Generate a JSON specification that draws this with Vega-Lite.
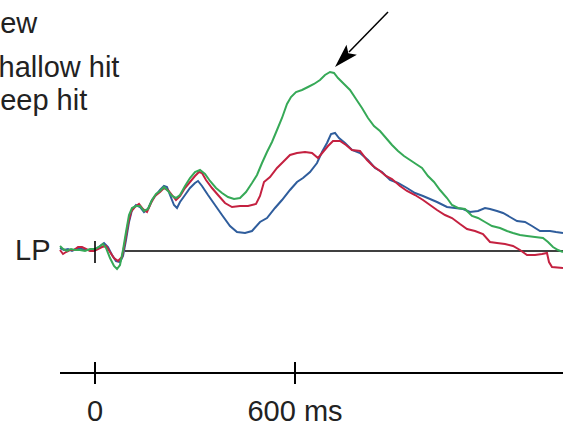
{
  "$schema": "https://vega.github.io/schema/vega-lite/v6.json",
  "width": 563,
  "height": 430,
  "padding": 0,
  "autosize": {"type": "none"},
  "background": "white",
  "config": {"view": {"stroke": null}, "font": "Liberation Sans"},
  "datasets": {
    "erp": [
      {"cond": "new", "t": -105, "amp": 0.3}, {"cond": "new", "t": -93, "amp": 0.1}, {"cond": "new", "t": -81, "amp": 0.2}, {"cond": "new", "t": -69, "amp": 0}, {"cond": "new", "t": -57, "amp": 0.2}, {"cond": "new", "t": -45, "amp": 0.3}, {"cond": "new", "t": -33, "amp": 0.1}, {"cond": "new", "t": -21, "amp": 0.1}, {"cond": "new", "t": -9, "amp": 0.1}, {"cond": "new", "t": 3, "amp": 0.2}, {"cond": "new", "t": 15, "amp": 0.5}, {"cond": "new", "t": 27, "amp": 0.8}, {"cond": "new", "t": 39, "amp": 0.4}, {"cond": "new", "t": 51, "amp": -0.4}, {"cond": "new", "t": 63, "amp": -1.0}, {"cond": "new", "t": 75, "amp": -1.1}, {"cond": "new", "t": 84, "amp": -0.5}, {"cond": "new", "t": 93, "amp": 1.1}, {"cond": "new", "t": 102, "amp": 2.9}, {"cond": "new", "t": 111, "amp": 4.1}, {"cond": "new", "t": 123, "amp": 4.6}, {"cond": "new", "t": 135, "amp": 4.4}, {"cond": "new", "t": 147, "amp": 3.9}, {"cond": "new", "t": 159, "amp": 4.2}, {"cond": "new", "t": 171, "amp": 5.1}, {"cond": "new", "t": 183, "amp": 5.6}, {"cond": "new", "t": 195, "amp": 6.1}, {"cond": "new", "t": 207, "amp": 6.5}, {"cond": "new", "t": 216, "amp": 6.4}, {"cond": "new", "t": 225, "amp": 5.6}, {"cond": "new", "t": 237, "amp": 4.6}, {"cond": "new", "t": 246, "amp": 4.3}, {"cond": "new", "t": 255, "amp": 4.9}, {"cond": "new", "t": 270, "amp": 5.6}, {"cond": "new", "t": 285, "amp": 6.3}, {"cond": "new", "t": 300, "amp": 6.8}, {"cond": "new", "t": 309, "amp": 7.0}, {"cond": "new", "t": 321, "amp": 6.5}, {"cond": "new", "t": 339, "amp": 5.6}, {"cond": "new", "t": 360, "amp": 4.6}, {"cond": "new", "t": 381, "amp": 3.6}, {"cond": "new", "t": 405, "amp": 2.5}, {"cond": "new", "t": 426, "amp": 1.9}, {"cond": "new", "t": 450, "amp": 1.8}, {"cond": "new", "t": 471, "amp": 2.0}, {"cond": "new", "t": 495, "amp": 2.9}, {"cond": "new", "t": 516, "amp": 3.3}, {"cond": "new", "t": 540, "amp": 4.3}, {"cond": "new", "t": 561, "amp": 5.1}, {"cond": "new", "t": 585, "amp": 6.1}, {"cond": "new", "t": 606, "amp": 6.9}, {"cond": "new", "t": 624, "amp": 7.3}, {"cond": "new", "t": 645, "amp": 7.9}, {"cond": "new", "t": 666, "amp": 8.8}, {"cond": "new", "t": 681, "amp": 9.9}, {"cond": "new", "t": 696, "amp": 10.8}, {"cond": "new", "t": 708, "amp": 11.7}, {"cond": "new", "t": 720, "amp": 11.8}, {"cond": "new", "t": 732, "amp": 11.3}, {"cond": "new", "t": 750, "amp": 10.8}, {"cond": "new", "t": 771, "amp": 10.1}, {"cond": "new", "t": 795, "amp": 9.8}, {"cond": "new", "t": 819, "amp": 9.1}, {"cond": "new", "t": 840, "amp": 8.3}, {"cond": "new", "t": 861, "amp": 7.9}, {"cond": "new", "t": 885, "amp": 7.1}, {"cond": "new", "t": 909, "amp": 6.8}, {"cond": "new", "t": 936, "amp": 6.3}, {"cond": "new", "t": 960, "amp": 5.8}, {"cond": "new", "t": 984, "amp": 5.5}, {"cond": "new", "t": 1005, "amp": 5.2}, {"cond": "new", "t": 1026, "amp": 4.9}, {"cond": "new", "t": 1056, "amp": 4.4}, {"cond": "new", "t": 1080, "amp": 4.3}, {"cond": "new", "t": 1104, "amp": 4.2}, {"cond": "new", "t": 1125, "amp": 3.9}, {"cond": "new", "t": 1149, "amp": 4.0}, {"cond": "new", "t": 1170, "amp": 4.3}, {"cond": "new", "t": 1185, "amp": 4.2}, {"cond": "new", "t": 1206, "amp": 4.0}, {"cond": "new", "t": 1224, "amp": 3.8}, {"cond": "new", "t": 1245, "amp": 3.4}, {"cond": "new", "t": 1266, "amp": 3.0}, {"cond": "new", "t": 1290, "amp": 2.9}, {"cond": "new", "t": 1311, "amp": 2.5}, {"cond": "new", "t": 1335, "amp": 2.0}, {"cond": "new", "t": 1365, "amp": 2.0}, {"cond": "new", "t": 1383, "amp": 1.9}, {"cond": "new", "t": 1404, "amp": 1.8},

      {"cond": "shallow hit", "t": -105, "amp": 0.1}, {"cond": "shallow hit", "t": -96, "amp": -0.3}, {"cond": "shallow hit", "t": -87, "amp": -0.1}, {"cond": "shallow hit", "t": -75, "amp": 0.1}, {"cond": "shallow hit", "t": -63, "amp": 0.1}, {"cond": "shallow hit", "t": -51, "amp": 0.4}, {"cond": "shallow hit", "t": -39, "amp": 0.4}, {"cond": "shallow hit", "t": -27, "amp": 0.2}, {"cond": "shallow hit", "t": -15, "amp": 0}, {"cond": "shallow hit", "t": -3, "amp": 0}, {"cond": "shallow hit", "t": 9, "amp": 0.2}, {"cond": "shallow hit", "t": 21, "amp": 0.4}, {"cond": "shallow hit", "t": 33, "amp": 0.5}, {"cond": "shallow hit", "t": 45, "amp": -0.1}, {"cond": "shallow hit", "t": 57, "amp": -0.7}, {"cond": "shallow hit", "t": 69, "amp": -1.0}, {"cond": "shallow hit", "t": 81, "amp": -0.6}, {"cond": "shallow hit", "t": 90, "amp": 0.9}, {"cond": "shallow hit", "t": 99, "amp": 2.7}, {"cond": "shallow hit", "t": 108, "amp": 3.9}, {"cond": "shallow hit", "t": 120, "amp": 4.4}, {"cond": "shallow hit", "t": 132, "amp": 4.7}, {"cond": "shallow hit", "t": 144, "amp": 4.2}, {"cond": "shallow hit", "t": 156, "amp": 3.9}, {"cond": "shallow hit", "t": 168, "amp": 4.8}, {"cond": "shallow hit", "t": 180, "amp": 5.5}, {"cond": "shallow hit", "t": 195, "amp": 5.9}, {"cond": "shallow hit", "t": 207, "amp": 6.3}, {"cond": "shallow hit", "t": 219, "amp": 6.1}, {"cond": "shallow hit", "t": 231, "amp": 5.6}, {"cond": "shallow hit", "t": 243, "amp": 5.1}, {"cond": "shallow hit", "t": 255, "amp": 5.5}, {"cond": "shallow hit", "t": 270, "amp": 6.3}, {"cond": "shallow hit", "t": 285, "amp": 6.9}, {"cond": "shallow hit", "t": 300, "amp": 7.5}, {"cond": "shallow hit", "t": 312, "amp": 7.9}, {"cond": "shallow hit", "t": 321, "amp": 7.8}, {"cond": "shallow hit", "t": 333, "amp": 7.1}, {"cond": "shallow hit", "t": 351, "amp": 6.3}, {"cond": "shallow hit", "t": 369, "amp": 5.6}, {"cond": "shallow hit", "t": 390, "amp": 4.8}, {"cond": "shallow hit", "t": 411, "amp": 4.4}, {"cond": "shallow hit", "t": 435, "amp": 4.5}, {"cond": "shallow hit", "t": 459, "amp": 4.5}, {"cond": "shallow hit", "t": 483, "amp": 4.7}, {"cond": "shallow hit", "t": 495, "amp": 5.5}, {"cond": "shallow hit", "t": 507, "amp": 6.9}, {"cond": "shallow hit", "t": 525, "amp": 7.4}, {"cond": "shallow hit", "t": 546, "amp": 8.3}, {"cond": "shallow hit", "t": 564, "amp": 8.9}, {"cond": "shallow hit", "t": 585, "amp": 9.6}, {"cond": "shallow hit", "t": 606, "amp": 9.8}, {"cond": "shallow hit", "t": 630, "amp": 9.9}, {"cond": "shallow hit", "t": 651, "amp": 9.8}, {"cond": "shallow hit", "t": 669, "amp": 9.3}, {"cond": "shallow hit", "t": 684, "amp": 9.9}, {"cond": "shallow hit", "t": 699, "amp": 10.5}, {"cond": "shallow hit", "t": 714, "amp": 11.0}, {"cond": "shallow hit", "t": 735, "amp": 11.0}, {"cond": "shallow hit", "t": 753, "amp": 10.6}, {"cond": "shallow hit", "t": 771, "amp": 10.1}, {"cond": "shallow hit", "t": 795, "amp": 10.0}, {"cond": "shallow hit", "t": 816, "amp": 9.1}, {"cond": "shallow hit", "t": 834, "amp": 8.5}, {"cond": "shallow hit", "t": 855, "amp": 8.0}, {"cond": "shallow hit", "t": 873, "amp": 7.5}, {"cond": "shallow hit", "t": 891, "amp": 7.2}, {"cond": "shallow hit", "t": 915, "amp": 6.5}, {"cond": "shallow hit", "t": 936, "amp": 6.0}, {"cond": "shallow hit", "t": 960, "amp": 5.6}, {"cond": "shallow hit", "t": 984, "amp": 5.1}, {"cond": "shallow hit", "t": 1005, "amp": 4.6}, {"cond": "shallow hit", "t": 1026, "amp": 4.1}, {"cond": "shallow hit", "t": 1050, "amp": 3.6}, {"cond": "shallow hit", "t": 1071, "amp": 3.3}, {"cond": "shallow hit", "t": 1095, "amp": 2.7}, {"cond": "shallow hit", "t": 1116, "amp": 2.2}, {"cond": "shallow hit", "t": 1140, "amp": 2.0}, {"cond": "shallow hit", "t": 1164, "amp": 1.7}, {"cond": "shallow hit", "t": 1185, "amp": 0.9}, {"cond": "shallow hit", "t": 1206, "amp": 0.8}, {"cond": "shallow hit", "t": 1230, "amp": 0.7}, {"cond": "shallow hit", "t": 1254, "amp": 0.5}, {"cond": "shallow hit", "t": 1275, "amp": 0.1}, {"cond": "shallow hit", "t": 1296, "amp": -0.4}, {"cond": "shallow hit", "t": 1320, "amp": -0.4}, {"cond": "shallow hit", "t": 1341, "amp": -0.3}, {"cond": "shallow hit", "t": 1356, "amp": -0.2}, {"cond": "shallow hit", "t": 1362, "amp": -1.1}, {"cond": "shallow hit", "t": 1371, "amp": -1.6}, {"cond": "shallow hit", "t": 1404, "amp": -1.7},

      {"cond": "deep hit", "t": -105, "amp": 0.5}, {"cond": "deep hit", "t": -96, "amp": 0.2}, {"cond": "deep hit", "t": -84, "amp": 0}, {"cond": "deep hit", "t": -72, "amp": 0.2}, {"cond": "deep hit", "t": -60, "amp": 0.1}, {"cond": "deep hit", "t": -45, "amp": 0.1}, {"cond": "deep hit", "t": -30, "amp": 0}, {"cond": "deep hit", "t": -15, "amp": 0.2}, {"cond": "deep hit", "t": 0, "amp": 0.2}, {"cond": "deep hit", "t": 12, "amp": 0.4}, {"cond": "deep hit", "t": 24, "amp": 0.7}, {"cond": "deep hit", "t": 33, "amp": 0.3}, {"cond": "deep hit", "t": 45, "amp": -0.7}, {"cond": "deep hit", "t": 57, "amp": -1.5}, {"cond": "deep hit", "t": 66, "amp": -1.8}, {"cond": "deep hit", "t": 75, "amp": -1.4}, {"cond": "deep hit", "t": 84, "amp": 0.1}, {"cond": "deep hit", "t": 93, "amp": 1.9}, {"cond": "deep hit", "t": 102, "amp": 3.6}, {"cond": "deep hit", "t": 111, "amp": 4.3}, {"cond": "deep hit", "t": 123, "amp": 4.5}, {"cond": "deep hit", "t": 135, "amp": 4.5}, {"cond": "deep hit", "t": 147, "amp": 4.0}, {"cond": "deep hit", "t": 159, "amp": 4.2}, {"cond": "deep hit", "t": 171, "amp": 5.1}, {"cond": "deep hit", "t": 183, "amp": 5.7}, {"cond": "deep hit", "t": 195, "amp": 6.0}, {"cond": "deep hit", "t": 207, "amp": 6.4}, {"cond": "deep hit", "t": 219, "amp": 6.0}, {"cond": "deep hit", "t": 231, "amp": 5.5}, {"cond": "deep hit", "t": 243, "amp": 5.3}, {"cond": "deep hit", "t": 255, "amp": 5.6}, {"cond": "deep hit", "t": 270, "amp": 6.5}, {"cond": "deep hit", "t": 285, "amp": 7.3}, {"cond": "deep hit", "t": 300, "amp": 7.9}, {"cond": "deep hit", "t": 315, "amp": 8.1}, {"cond": "deep hit", "t": 330, "amp": 7.7}, {"cond": "deep hit", "t": 345, "amp": 7.0}, {"cond": "deep hit", "t": 363, "amp": 6.3}, {"cond": "deep hit", "t": 381, "amp": 5.8}, {"cond": "deep hit", "t": 399, "amp": 5.4}, {"cond": "deep hit", "t": 417, "amp": 5.2}, {"cond": "deep hit", "t": 435, "amp": 5.3}, {"cond": "deep hit", "t": 453, "amp": 5.9}, {"cond": "deep hit", "t": 471, "amp": 6.8}, {"cond": "deep hit", "t": 486, "amp": 7.6}, {"cond": "deep hit", "t": 501, "amp": 8.8}, {"cond": "deep hit", "t": 516, "amp": 9.9}, {"cond": "deep hit", "t": 531, "amp": 10.9}, {"cond": "deep hit", "t": 546, "amp": 12.1}, {"cond": "deep hit", "t": 561, "amp": 13.3}, {"cond": "deep hit", "t": 576, "amp": 14.7}, {"cond": "deep hit", "t": 588, "amp": 15.4}, {"cond": "deep hit", "t": 603, "amp": 15.9}, {"cond": "deep hit", "t": 621, "amp": 16.1}, {"cond": "deep hit", "t": 639, "amp": 16.4}, {"cond": "deep hit", "t": 657, "amp": 16.7}, {"cond": "deep hit", "t": 675, "amp": 17.1}, {"cond": "deep hit", "t": 690, "amp": 17.6}, {"cond": "deep hit", "t": 705, "amp": 17.9}, {"cond": "deep hit", "t": 717, "amp": 17.8}, {"cond": "deep hit", "t": 729, "amp": 17.3}, {"cond": "deep hit", "t": 747, "amp": 16.7}, {"cond": "deep hit", "t": 765, "amp": 16.1}, {"cond": "deep hit", "t": 783, "amp": 15.2}, {"cond": "deep hit", "t": 801, "amp": 14.3}, {"cond": "deep hit", "t": 819, "amp": 13.3}, {"cond": "deep hit", "t": 837, "amp": 12.5}, {"cond": "deep hit", "t": 855, "amp": 12.0}, {"cond": "deep hit", "t": 873, "amp": 11.3}, {"cond": "deep hit", "t": 891, "amp": 10.6}, {"cond": "deep hit", "t": 909, "amp": 10.0}, {"cond": "deep hit", "t": 927, "amp": 9.5}, {"cond": "deep hit", "t": 945, "amp": 9.1}, {"cond": "deep hit", "t": 963, "amp": 8.7}, {"cond": "deep hit", "t": 981, "amp": 8.3}, {"cond": "deep hit", "t": 999, "amp": 7.5}, {"cond": "deep hit", "t": 1017, "amp": 6.9}, {"cond": "deep hit", "t": 1035, "amp": 6.1}, {"cond": "deep hit", "t": 1056, "amp": 5.3}, {"cond": "deep hit", "t": 1071, "amp": 4.6}, {"cond": "deep hit", "t": 1089, "amp": 4.3}, {"cond": "deep hit", "t": 1110, "amp": 4.2}, {"cond": "deep hit", "t": 1131, "amp": 3.5}, {"cond": "deep hit", "t": 1149, "amp": 3.3}, {"cond": "deep hit", "t": 1170, "amp": 2.9}, {"cond": "deep hit", "t": 1191, "amp": 2.5}, {"cond": "deep hit", "t": 1215, "amp": 2.3}, {"cond": "deep hit", "t": 1236, "amp": 2.0}, {"cond": "deep hit", "t": 1254, "amp": 1.8}, {"cond": "deep hit", "t": 1275, "amp": 1.6}, {"cond": "deep hit", "t": 1296, "amp": 1.5}, {"cond": "deep hit", "t": 1320, "amp": 1.4}, {"cond": "deep hit", "t": 1344, "amp": 1.3}, {"cond": "deep hit", "t": 1359, "amp": 0.9}, {"cond": "deep hit", "t": 1374, "amp": 0.4}, {"cond": "deep hit", "t": 1389, "amp": 0.1}, {"cond": "deep hit", "t": 1404, "amp": -0.1}
    ],
    "legendLabels": [
      {"label": "new", "amp": 21.8},
      {"label": "shallow hit", "amp": 17.4},
      {"label": "deep hit", "amp": 14.1}
    ],
    "timeTicks": [
      {"t": 0, "label": "0"},
      {"t": 600, "label": "600 ms"}
    ],
    "one": [{}]
  },
  "layer": [
    {
      "data": {"name": "one"},
      "mark": {"type": "rule", "color": "black", "strokeWidth": 1.6},
      "encoding": {
        "x": {"datum": 90, "type": "quantitative", "scale": {"domain": [-285, 1404], "nice": false, "zero": false}, "axis": null},
        "x2": {"datum": 1404},
        "y": {"datum": 0, "type": "quantitative", "scale": {"domain": [-17.9, 25.1], "nice": false, "zero": false}, "axis": null}
      }
    },
    {
      "data": {"name": "erp"},
      "mark": {"type": "line", "strokeWidth": 2, "strokeJoin": "miter", "interpolate": "linear"},
      "encoding": {
        "x": {"field": "t", "type": "quantitative", "scale": {"domain": [-285, 1404], "nice": false, "zero": false}, "axis": null},
        "y": {"field": "amp", "type": "quantitative", "scale": {"domain": [-17.9, 25.1], "nice": false, "zero": false}, "axis": null},
        "color": {"field": "cond", "type": "nominal", "scale": {"domain": ["new", "shallow hit", "deep hit"], "range": ["#2f5d9c", "#c42140", "#36a957"]}, "legend": null}
      }
    },
    {
      "data": {"name": "one"},
      "mark": {"type": "rule", "color": "black", "strokeWidth": 1.6},
      "encoding": {
        "x": {"datum": 0, "type": "quantitative", "scale": {"domain": [-285, 1404], "nice": false, "zero": false}, "axis": null},
        "y": {"datum": 1.0, "type": "quantitative", "scale": {"domain": [-17.9, 25.1], "nice": false, "zero": false}, "axis": null},
        "y2": {"datum": -1.2}
      }
    },
    {
      "data": {"name": "one"},
      "mark": {"type": "rule", "color": "black", "strokeWidth": 2},
      "encoding": {
        "x": {"datum": -105, "type": "quantitative", "scale": {"domain": [-285, 1404], "nice": false, "zero": false}, "axis": null},
        "x2": {"datum": 1404},
        "y": {"datum": -12.2, "type": "quantitative", "scale": {"domain": [-17.9, 25.1], "nice": false, "zero": false}, "axis": null}
      }
    },
    {
      "data": {"name": "timeTicks"},
      "mark": {"type": "rule", "color": "black", "strokeWidth": 2},
      "encoding": {
        "x": {"field": "t", "type": "quantitative", "scale": {"domain": [-285, 1404], "nice": false, "zero": false}, "axis": null},
        "y": {"datum": -11.1, "type": "quantitative", "scale": {"domain": [-17.9, 25.1], "nice": false, "zero": false}, "axis": null},
        "y2": {"datum": -13.3}
      }
    },
    {
      "data": {"name": "timeTicks"},
      "mark": {"type": "text", "align": "center", "baseline": "alphabetic", "fontSize": 29, "color": "#222"},
      "encoding": {
        "x": {"field": "t", "type": "quantitative", "scale": {"domain": [-285, 1404], "nice": false, "zero": false}, "axis": null},
        "y": {"datum": -17.0, "type": "quantitative", "scale": {"domain": [-17.9, 25.1], "nice": false, "zero": false}, "axis": null},
        "text": {"field": "label"}
      }
    },
    {
      "data": {"name": "one"},
      "mark": {"type": "text", "align": "left", "baseline": "alphabetic", "fontSize": 29, "color": "#222", "text": "LP"},
      "encoding": {
        "x": {"datum": -240, "type": "quantitative", "scale": {"domain": [-285, 1404], "nice": false, "zero": false}, "axis": null},
        "y": {"datum": -0.9, "type": "quantitative", "scale": {"domain": [-17.9, 25.1], "nice": false, "zero": false}, "axis": null}
      }
    },
    {
      "data": {"name": "legendLabels"},
      "mark": {"type": "text", "align": "left", "baseline": "alphabetic", "fontSize": 29, "color": "#222"},
      "encoding": {
        "x": {"datum": -333, "type": "quantitative", "scale": {"domain": [-285, 1404], "nice": false, "zero": false}, "axis": null},
        "y": {"field": "amp", "type": "quantitative", "scale": {"domain": [-17.9, 25.1], "nice": false, "zero": false}, "axis": null},
        "text": {"field": "label"}
      }
    },
    {
      "data": {"name": "one"},
      "mark": {"type": "rule", "color": "black", "strokeWidth": 1.5},
      "encoding": {
        "x": {"datum": 879, "type": "quantitative", "scale": {"domain": [-285, 1404], "nice": false, "zero": false}, "axis": null},
        "x2": {"datum": 762},
        "y": {"datum": 23.9, "type": "quantitative", "scale": {"domain": [-17.9, 25.1], "nice": false, "zero": false}, "axis": null},
        "y2": {"datum": 19.9}
      }
    },
    {
      "data": {"name": "one"},
      "mark": {"type": "point", "shape": "M0,0L-0.6,2L0,1.6L0.6,2Z", "filled": true, "color": "black", "opacity": 1, "size": 576, "angle": 224},
      "encoding": {
        "x": {"datum": 720, "type": "quantitative", "scale": {"domain": [-285, 1404], "nice": false, "zero": false}, "axis": null},
        "y": {"datum": 18.4, "type": "quantitative", "scale": {"domain": [-17.9, 25.1], "nice": false, "zero": false}, "axis": null}
      }
    }
  ]
}
